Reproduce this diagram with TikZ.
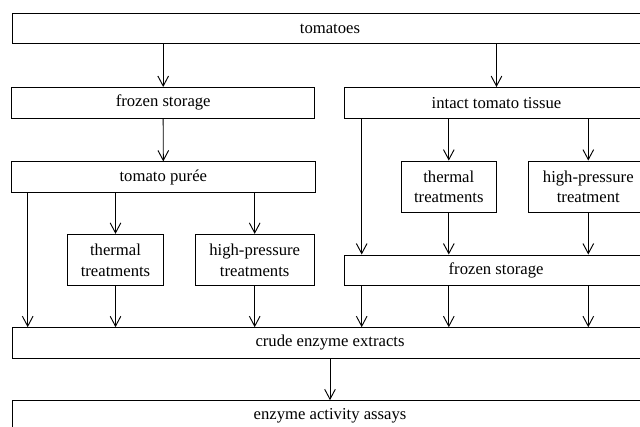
\documentclass[tikz,border=0pt]{standalone}
\usepackage{fontspec}
\setmainfont{Liberation Serif}
\usetikzlibrary{arrows.meta}

\tikzset{
  box/.style={draw, line width=0.7pt, inner sep=0pt, align=center,
    font=\fontsize{12.5}{15.5}\selectfont},
  wide/.style={box, minimum width=477pt, minimum height=23pt},
  half/.style={box, minimum width=227.5pt, minimum height=23pt},
  small/.style={box, minimum width=71.7pt, minimum height=38.5pt},
  medium/.style={box, minimum width=89.5pt, minimum height=38.5pt},
  arr/.style={-{Straight Barb[length=7.5pt,width=8pt]}, line width=0.7pt},
}

\begin{document}
\begin{tikzpicture}[x=0.75pt, y=-0.75pt]
    \clip (0,0) rectangle (640,426);

    % boxes
    \node[wide] (tom) at (330,28.5) {tomatoes};
    \node[half] (fs1) at (163.2,102.8) {frozen storage};
    \node[half] (itt) at (496.5,102.8) {intact tomato tissue};
    \node[half] (pur) at (163.3,177.2) {tomato pur\'ee};
    \node[small] (th1) at (115.5,260) {thermal\\treatments};
    \node[medium] (hp1) at (254.7,260) {high-pressure\\treatments};
    \node[small] (th2) at (448.8,186.7) {thermal\\treatments};
    \node[medium] (hp2) at (588.3,186.7) {high-pressure\\treatment};
    \node[half, minimum width=227.8pt] (fs2) at (496.1,270.3) {frozen storage};
    \node[wide] (crude) at (330,343) {crude enzyme extracts};
    \node[wide] (assay) at (330,416) {enzyme activity assays};

    % side columns
    \coordinate (xa) at (27.7,0);
    \coordinate (xf) at (361.7,0);

    % arrows
    \draw[arr] (tom.south -| fs1.north) -- (fs1.north);
    \draw[arr] (tom.south -| itt.north) -- (itt.north);
    \draw[arr] (fs1.south) -- (pur.north);

    \foreach \n in {th1, hp1}
        \draw[arr] (pur.south -| \n.north) -- (\n.north);
    \foreach \n in {th2, hp2}
        \draw[arr] (itt.south -| \n.north) -- (\n.north);
    \draw[arr] (itt.south -| xf) -- (fs2.north -| xf);
    \foreach \n in {th2, hp2}
        \draw[arr] (\n.south) -- (fs2.north -| \n.south);

    \draw[arr] (pur.south -| xa) -- (crude.north -| xa);
    \foreach \n in {th1, hp1}
        \draw[arr] (\n.south) -- (crude.north -| \n.south);
    \foreach \n in {xf, th2, hp2}
        \draw[arr] (fs2.south -| \n) -- (crude.north -| \n);

    \draw[arr] (crude.south) -- (assay.north);
\end{tikzpicture}
\end{document}
